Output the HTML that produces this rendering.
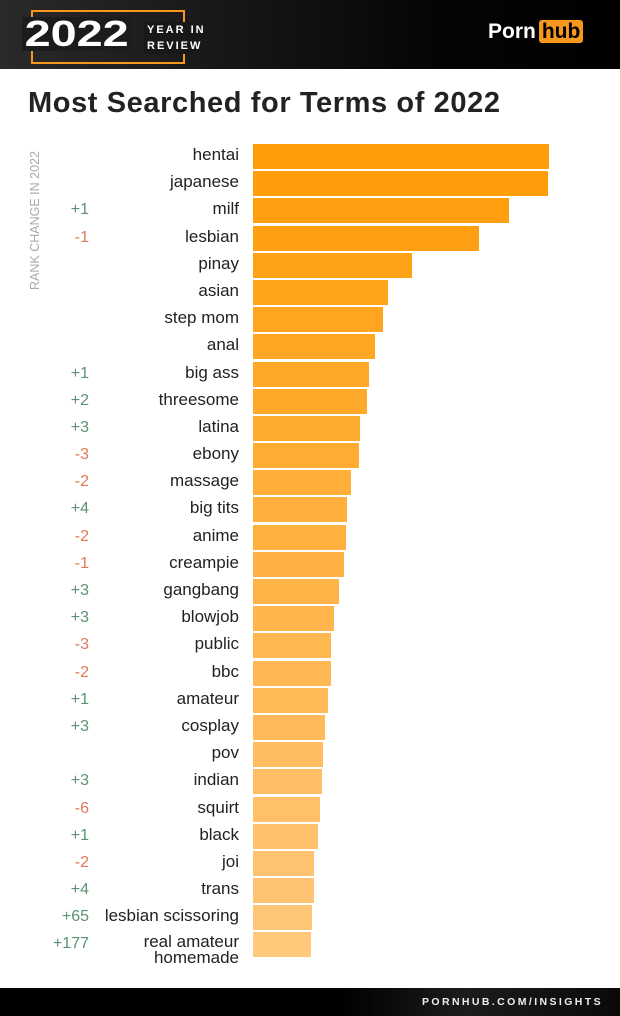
<!DOCTYPE html>
<html><head><meta charset="utf-8"><style>
body{margin:0;width:620px;height:1016px;position:relative;background:#fff;font-family:"Liberation Sans",sans-serif;overflow:hidden}
.hdr{position:absolute;left:0;top:0;width:620px;height:69px;background:linear-gradient(90deg,#2a2a2a,#151515 40%,#050505 70%,#000)}
.ftr{position:absolute;left:0;top:988px;width:620px;height:28px;background:linear-gradient(90deg,#000 55%,#1c1c1c 75%,#0a0a0a)}
.ftr span{position:absolute;right:17px;top:8px;color:#eee;font-weight:bold;font-size:10.5px;letter-spacing:2.4px}
.box{position:absolute;left:31px;top:10px;width:150px;height:50px;border:2px solid #f7971d}
.y{position:absolute;left:22px;top:17px;color:#fff;font-weight:900;font-size:36px;line-height:34px;background:#1c1c1c;padding:0 2px;transform:scaleX(1.3);transform-origin:0 0}
.yr{position:absolute;left:144px;top:22px;color:#fff;font-weight:bold;font-size:11px;letter-spacing:2px;line-height:16px;background:#181818;padding-left:3px}
.logo{position:absolute;left:488px;top:20px;color:#fff;font-weight:bold;font-size:21px}
.logo b{background:#f7971d;color:#000;border-radius:3px;padding:0 3px;margin-left:3px}
h1{position:absolute;left:28px;top:87px;margin:0;font-size:29px;color:#222;font-weight:bold;letter-spacing:0.6px}
.side{position:absolute;left:28px;top:290px;transform-origin:0 0;transform:rotate(-90deg);color:#aaa;font-size:12.5px;white-space:nowrap}
.rows{position:absolute;left:0;top:143px}
.r{position:relative;height:27.2px;width:620px}
.c{position:absolute;right:531px;top:0;line-height:25px;font-size:16px}
.p{color:#5b9270}.n{color:#e0785a}
.l{position:absolute;right:381px;top:-1px;line-height:25px;font-size:17px;color:#222;text-align:right;white-space:nowrap}
.b{position:absolute;left:253px;top:1px;height:25px}
</style></head><body>
<div class="hdr"></div>
<div class="box"></div>
<div class="y">2022</div>
<div class="yr">YEAR IN<br>REVIEW</div>
<div class="logo">Porn<b>hub</b></div>
<h1>Most Searched for Terms of 2022</h1>
<div class="side">RANK CHANGE IN 2022</div>
<div class="rows">
<div class="r"><div class="l">hentai</div><div class="b" style="width:296px;background:#ff9c07"></div></div>
<div class="r"><div class="l">japanese</div><div class="b" style="width:295px;background:#ff9d0b"></div></div>
<div class="r"><div class="c p">+1</div><div class="l">milf</div><div class="b" style="width:256px;background:#ff9f0f"></div></div>
<div class="r"><div class="c n">-1</div><div class="l">lesbian</div><div class="b" style="width:226px;background:#ffa013"></div></div>
<div class="r"><div class="l">pinay</div><div class="b" style="width:159px;background:#ffa217"></div></div>
<div class="r"><div class="l">asian</div><div class="b" style="width:135px;background:#ffa31b"></div></div>
<div class="r"><div class="l">step mom</div><div class="b" style="width:130px;background:#ffa51f"></div></div>
<div class="r"><div class="l">anal</div><div class="b" style="width:122px;background:#ffa623"></div></div>
<div class="r"><div class="c p">+1</div><div class="l">big ass</div><div class="b" style="width:116px;background:#ffa827"></div></div>
<div class="r"><div class="c p">+2</div><div class="l">threesome</div><div class="b" style="width:114px;background:#ffa92b"></div></div>
<div class="r"><div class="c p">+3</div><div class="l">latina</div><div class="b" style="width:107px;background:#ffab2f"></div></div>
<div class="r"><div class="c n">-3</div><div class="l">ebony</div><div class="b" style="width:106px;background:#ffac33"></div></div>
<div class="r"><div class="c n">-2</div><div class="l">massage</div><div class="b" style="width:98px;background:#ffae37"></div></div>
<div class="r"><div class="c p">+4</div><div class="l">big tits</div><div class="b" style="width:94px;background:#ffaf3b"></div></div>
<div class="r"><div class="c n">-2</div><div class="l">anime</div><div class="b" style="width:93px;background:#ffb13f"></div></div>
<div class="r"><div class="c n">-1</div><div class="l">creampie</div><div class="b" style="width:91px;background:#ffb243"></div></div>
<div class="r"><div class="c p">+3</div><div class="l">gangbang</div><div class="b" style="width:86px;background:#ffb447"></div></div>
<div class="r"><div class="c p">+3</div><div class="l">blowjob</div><div class="b" style="width:81px;background:#ffb54b"></div></div>
<div class="r"><div class="c n">-3</div><div class="l">public</div><div class="b" style="width:78px;background:#ffb74f"></div></div>
<div class="r"><div class="c n">-2</div><div class="l">bbc</div><div class="b" style="width:78px;background:#ffb853"></div></div>
<div class="r"><div class="c p">+1</div><div class="l">amateur</div><div class="b" style="width:75px;background:#ffba57"></div></div>
<div class="r"><div class="c p">+3</div><div class="l">cosplay</div><div class="b" style="width:72px;background:#ffbb5b"></div></div>
<div class="r"><div class="l">pov</div><div class="b" style="width:70px;background:#ffbd5f"></div></div>
<div class="r"><div class="c p">+3</div><div class="l">indian</div><div class="b" style="width:69px;background:#ffbe63"></div></div>
<div class="r"><div class="c n">-6</div><div class="l">squirt</div><div class="b" style="width:67px;background:#ffc067"></div></div>
<div class="r"><div class="c p">+1</div><div class="l">black</div><div class="b" style="width:65px;background:#ffc16b"></div></div>
<div class="r"><div class="c n">-2</div><div class="l">joi</div><div class="b" style="width:61px;background:#ffc36f"></div></div>
<div class="r"><div class="c p">+4</div><div class="l">trans</div><div class="b" style="width:61px;background:#ffc473"></div></div>
<div class="r"><div class="c p">+65</div><div class="l">lesbian scissoring</div><div class="b" style="width:59px;background:#ffc677"></div></div>
<div class="r"><div class="c p">+177</div><div class="l" style="line-height:16px;top:3px">real amateur<br>homemade</div><div class="b" style="width:58px;background:#ffc87b"></div></div>
</div>
<div class="ftr"><span>PORNHUB.COM/INSIGHTS</span></div>
</body></html>
